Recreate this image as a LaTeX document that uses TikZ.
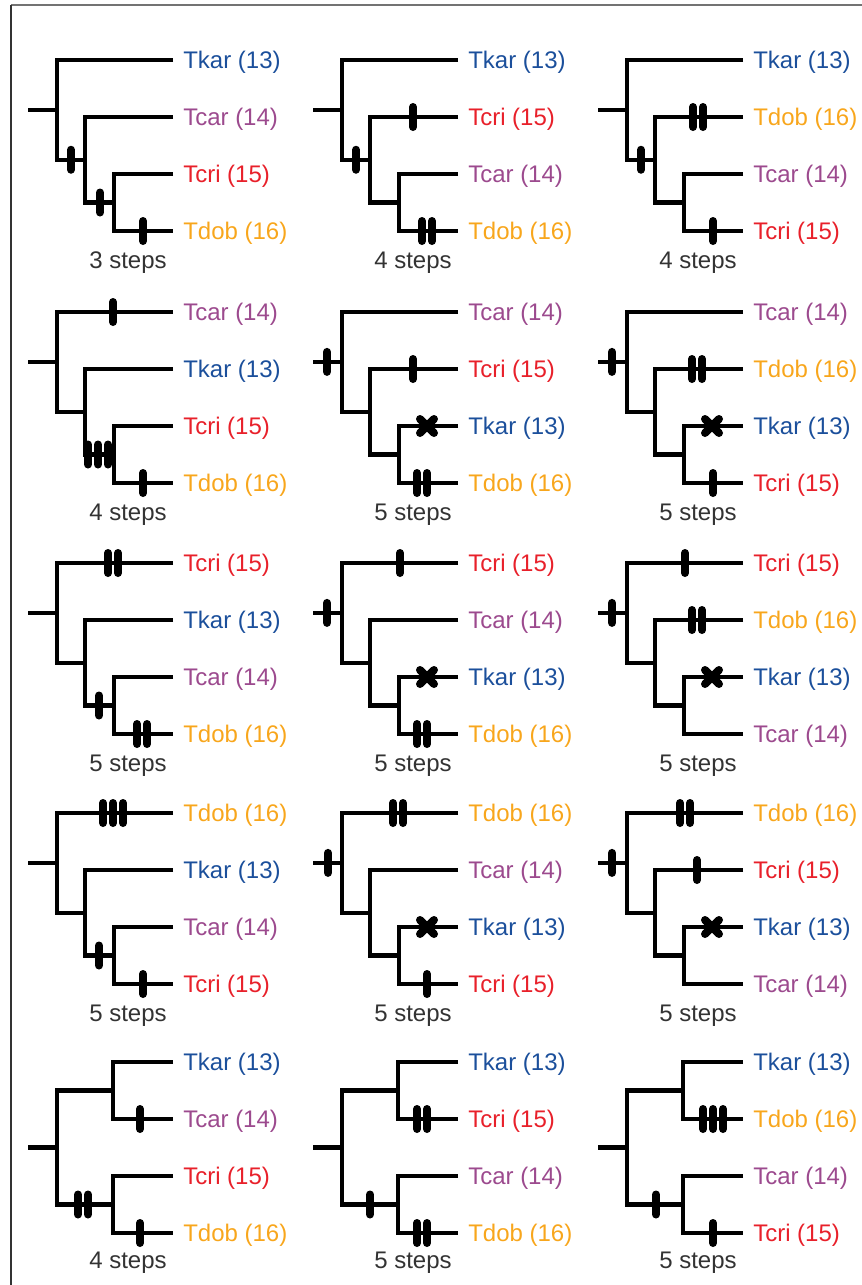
\documentclass[tikz,border=0pt]{standalone}
\usepackage{fontspec}
\setmainfont{Liberation Sans}

\definecolor{ckar}{HTML}{1B4F9B}
\definecolor{ccar}{HTML}{9C4A8E}
\definecolor{ccri}{HTML}{E8202A}
\definecolor{cdob}{HTML}{F8A61C}
\definecolor{csteps}{HTML}{333333}

% taxon names
\def\namekar{Tkar (13)}
\def\namecar{Tcar (14)}
\def\namecri{Tcri (15)}
\def\namedob{Tdob (16)}

\tikzset{
  branch/.style={line width=3.2pt, line join=miter},
  bar/.style={line width=6pt, line cap=round},
  tick/.pic={\draw[bar] (0,-10) -- (0,10);},
  tickii/.pic={\draw[bar] (-5,-10) -- (-5,10) (5,-10) -- (5,10);},
  tickiii/.pic={\draw[bar] (-10,-10) -- (-10,10) (0,-10) -- (0,10) (10,-10) -- (10,10);},
  cross/.pic={\draw[bar] (-7,-7) -- (7,7) (-7,7) -- (7,-7);},
  taxon/.style={anchor=base west, inner sep=0pt, font=\fontsize{18}{20}\selectfont},
  tx-kar/.style={text=ckar},
  tx-car/.style={text=ccar},
  tx-cri/.style={text=ccri},
  tx-dob/.style={text=cdob},
  stepcount/.style={anchor=base, inner sep=0pt, text=csteps, font=\fontsize{18}{20}\selectfont},
}

% tip coordinates and labels (tips 57px apart)
\newcommand\tiplabels[5]{%
  \coordinate (#1-t1) at (173,0);
  \coordinate (#1-t2) at (173,57);
  \coordinate (#1-t3) at (173,114);
  \coordinate (#1-t4) at (173,171);
  \node[taxon,tx-#2] (#1-l1) at (183,8)   {\csname name#2\endcsname};
  \node[taxon,tx-#3] (#1-l2) at (183,65)  {\csname name#3\endcsname};
  \node[taxon,tx-#4] (#1-l3) at (183,122) {\csname name#4\endcsname};
  \node[taxon,tx-#5] (#1-l4) at (183,179) {\csname name#5\endcsname};
}

% ladder tree ((1,(2,(3,4))))
\newcommand\laddertree[6]{%
  \tiplabels{#1}{#2}{#3}{#4}{#5}
  \coordinate (#1-n3) at (114,142.5);
  \coordinate (#1-n2) at (85,99.75);
  \coordinate (#1-n1) at (57,49.875);
  \coordinate (#1-s)  at (28,49.875);
  \draw[branch] (#1-s) -- (#1-n1);
  \draw[branch] (#1-t1) -| (#1-n1) |- (#1-n2);
  \draw[branch] (#1-t2) -| (#1-n2) |- (#1-n3);
  \draw[branch] (#1-t3) -| (#1-n3) |- (#1-t4);
  \node[stepcount] (#1-steps) at (128,208) {#6};
}

% balanced tree ((1,2),(3,4))
\newcommand\pairtree[6]{%
  \tiplabels{#1}{#2}{#3}{#4}{#5}
  \coordinate (#1-a)  at (113,28.5);
  \coordinate (#1-b)  at (113,142.5);
  \coordinate (#1-n1) at (57,85.5);
  \coordinate (#1-s)  at (28,85.5);
  \draw[branch] (#1-s) -- (#1-n1);
  \draw[branch] (#1-t1) -| (#1-a) |- (#1-t2);
  \draw[branch] (#1-t3) -| (#1-b) |- (#1-t4);
  \draw[branch] (#1-a) -| (#1-n1) |- (#1-b);
  \node[stepcount] (#1-steps) at (128,206) {#6};
}

\begin{document}
\begin{tikzpicture}[x=0.75pt, y=-0.75pt]
\useasboundingbox (0,0) rectangle (862,1285);

% frame
\draw[line width=1.1pt, color=black!55] (11,5) -- (862,5);
\draw[line width=1.1pt, color=black!80] (11,5) -- (11,1285);

% row 1
\begin{scope}[shift={(0,60)}]
  \laddertree{p11}{kar}{car}{cri}{dob}{3 steps}
  \pic at (71,99.75) {tick};
  \pic at (100,142.5) {tick};
  \pic at (143,171) {tick};
\end{scope}
\begin{scope}[shift={(285,60)}]
  \laddertree{p12}{kar}{cri}{car}{dob}{4 steps}
  \pic at (71,99.75) {tick};
  \pic at (128,57) {tick};
  \pic at (142,171) {tickii};
\end{scope}
\begin{scope}[shift={(570,60)}]
  \laddertree{p13}{kar}{dob}{car}{cri}{4 steps}
  \pic at (71,99.75) {tick};
  \pic at (128,57) {tickii};
  \pic at (143,171) {tick};
\end{scope}

% row 2
\begin{scope}[shift={(0,312)}]
  \laddertree{p21}{car}{kar}{cri}{dob}{4 steps}
  \pic at (113,0) {tick};
  \pic at (98,142.5) {tickiii};
  \pic at (143,171) {tick};
\end{scope}
\begin{scope}[shift={(285,312)}]
  \laddertree{p22}{car}{cri}{kar}{dob}{5 steps}
  \pic at (42,49.875) {tick};
  \pic at (128,57) {tick};
  \pic at (142,114) {cross};
  \pic at (137,171) {tickii};
\end{scope}
\begin{scope}[shift={(570,312)}]
  \laddertree{p23}{car}{dob}{kar}{cri}{5 steps}
  \pic at (42,49.875) {tick};
  \pic at (127,57) {tickii};
  \pic at (142,114) {cross};
  \pic at (143,171) {tick};
\end{scope}

% row 3
\begin{scope}[shift={(0,563)}]
  \laddertree{p31}{cri}{kar}{car}{dob}{5 steps}
  \pic at (113,0) {tickii};
  \pic at (99,142.5) {tick};
  \pic at (142,171) {tickii};
\end{scope}
\begin{scope}[shift={(285,563)}]
  \laddertree{p32}{cri}{car}{kar}{dob}{5 steps}
  \pic at (42,49.875) {tick};
  \pic at (115,0) {tick};
  \pic at (142,114) {cross};
  \pic at (137,171) {tickii};
\end{scope}
\begin{scope}[shift={(570,563)}]
  \laddertree{p33}{cri}{dob}{kar}{car}{5 steps}
  \pic at (42,49.875) {tick};
  \pic at (115,0) {tick};
  \pic at (127,57) {tickii};
  \pic at (142,114) {cross};
\end{scope}

% row 4
\begin{scope}[shift={(0,813)}]
  \laddertree{p41}{dob}{kar}{car}{cri}{5 steps}
  \pic at (113,0) {tickiii};
  \pic at (99,142.5) {tick};
  \pic at (143,171) {tick};
\end{scope}
\begin{scope}[shift={(285,813)}]
  \laddertree{p42}{dob}{car}{kar}{cri}{5 steps}
  \pic at (43,49.875) {tick};
  \pic at (113,0) {tickii};
  \pic at (142,114) {cross};
  \pic at (142,171) {tick};
\end{scope}
\begin{scope}[shift={(570,813)}]
  \laddertree{p43}{dob}{cri}{kar}{car}{5 steps}
  \pic at (42,49.875) {tick};
  \pic at (115,0) {tickii};
  \pic at (127,57) {tick};
  \pic at (142,114) {cross};
\end{scope}

% row 5
\begin{scope}[shift={(0,1062)}]
  \pairtree{p51}{kar}{car}{cri}{dob}{4 steps}
  \pic at (140,57) {tick};
  \pic at (83,142.5) {tickii};
  \pic at (140,171) {tick};
\end{scope}
\begin{scope}[shift={(285,1062)}]
  \pairtree{p52}{kar}{cri}{car}{dob}{5 steps}
  \pic at (137,57) {tickii};
  \pic at (85,142.5) {tick};
  \pic at (137,171) {tickii};
\end{scope}
\begin{scope}[shift={(570,1062)}]
  \pairtree{p53}{kar}{dob}{car}{cri}{5 steps}
  \pic at (143,57) {tickiii};
  \pic at (86,142.5) {tick};
  \pic at (143,171) {tick};
\end{scope}
\end{tikzpicture}
\end{document}
